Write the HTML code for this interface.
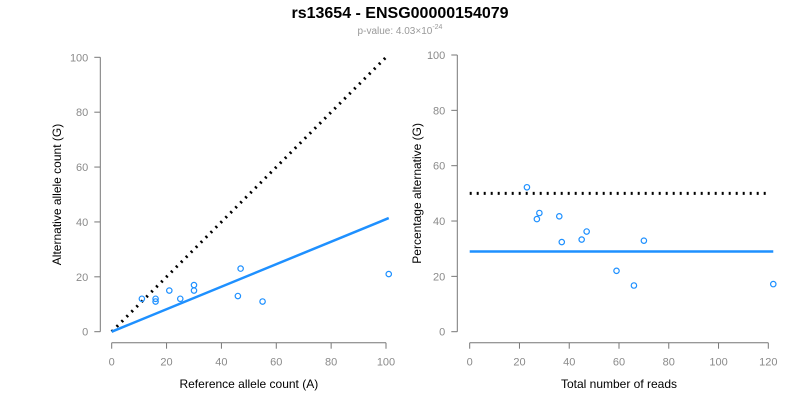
<!DOCTYPE html>
<html><head><meta charset="utf-8"><style>
body{margin:0;background:#fff;}
svg{display:block;font-family:"Liberation Sans",Arial,sans-serif;}
</style></head><body>
<svg id="chart" width="800" height="400" viewBox="0 0 800 400">
<text x="400" y="18" text-anchor="middle" font-size="16" font-weight="bold" fill="#000">rs13654 - ENSG00000154079</text>
<text x="400" y="34" text-anchor="middle" font-size="10" fill="#999">p-value: 4.03×10<tspan dy="-5" font-size="7">-24</tspan></text>
<g id="left"></g>
<g id="right"></g>
</svg>
<script>
const refCounts=[11,16,16,21,25,30,30,46,47,55,101];
const altCounts=[12,12,11,15,12,17,15,13,23,11,21];
const totalReads=[23,28,27,36,37,45,47,59,66,70,122];
const pctAlt=[52.2,42.9,40.7,41.7,32.4,33.3,36.2,22.0,16.7,32.9,17.2];
const fitSlope=0.41;
const fitPct=29;
const leftXTicks=[0,20,40,60,80,100];
const leftYTicks=[0,20,40,60,80,100];
const rightXTicks=[0,20,40,60,80,100,120];
const rightYTicks=[0,20,40,60,80,100];

const NS="http://www.w3.org/2000/svg";
function mk(p,tag,attrs){const e=document.createElementNS(NS,tag);for(const k in attrs)e.setAttribute(k,attrs[k]);p.appendChild(e);return e;}

function panel(g,cfg){
  const sx=v=>cfg.x0+(v-cfg.xmin)*(cfg.x1-cfg.x0)/(cfg.xmax-cfg.xmin);
  const sy=v=>cfg.y0+(v-0)*(cfg.y1-cfg.y0)/100;
  const axc="#777",tc="#8a8a8a";
  // y axis
  let a=mk(g,'line',{x1:cfg.yax,x2:cfg.yax,y1:sy(0),y2:sy(100),stroke:axc});
  
  cfg.yt.forEach(t=>{
    const l=mk(g,'line',{x1:cfg.yax-6,x2:cfg.yax,y1:sy(t),y2:sy(t),stroke:axc});
    
    const tx=mk(g,'text',{x:cfg.yax-12,y:sy(t)+4,'text-anchor':'end','font-size':11,fill:tc});
    tx.textContent=t;
    
  });
  a=mk(g,'line',{x1:sx(cfg.xt[0]),x2:sx(cfg.xt[cfg.xt.length-1]),y1:cfg.xax,y2:cfg.xax,stroke:axc});
  
  cfg.xt.forEach(t=>{
    const l=mk(g,'line',{x1:sx(t),x2:sx(t),y1:cfg.xax,y2:cfg.xax+6,stroke:axc});
    
    const tx=mk(g,'text',{x:sx(t),y:cfg.xax+23,'text-anchor':'middle','font-size':11,fill:tc});
    tx.textContent=t;
    
  });
  let tt=mk(g,'text',{x:(cfg.x0+cfg.x1)/2,y:388,'text-anchor':'middle','font-size':12,fill:'#000'});
  tt.textContent=cfg.xlab;
  
  const cy=(sy(0)+sy(100))/2;
  tt=mk(g,'text',{x:cfg.ylabx,y:cy,'text-anchor':'middle','font-size':12,fill:'#000',transform:`rotate(-90 ${cfg.ylabx} ${cy})`});
  tt.textContent=cfg.ylab;
  
  // dotted reference
  const d=mk(g,'line',{x1:sx(cfg.ref[0]),y1:sy(cfg.ref[1]),x2:sx(cfg.ref[2]),y2:sy(cfg.ref[3]),stroke:'#000','stroke-width':3,'stroke-dasharray':'2 5'});
  
  const f=mk(g,'line',{x1:sx(cfg.fit[0]),y1:sy(cfg.fit[1]),x2:sx(cfg.fit[2]),y2:sy(cfg.fit[3]),stroke:'#1e90ff','stroke-width':2.5});
  
  cfg.xs.forEach((v,i)=>{
    const c=mk(g,'circle',{cx:sx(v),cy:sy(cfg.ys[i]),r:2.7,fill:'none',stroke:'#1e90ff','stroke-width':1.2});
    
  });
}
panel(document.getElementById('left'),{x0:111.7,x1:386,xmin:0,xmax:100,y0:331.7,y1:57.3,yax:100.3,xax:342.7,
  xt:leftXTicks,yt:leftYTicks,xlab:'Reference allele count (A)',ylab:'Alternative allele count (G)',ylabx:61,
  ref:[0,0,100,100],fit:[0,0,101,101*fitSlope],xs:refCounts,ys:altCounts});
panel(document.getElementById('right'),{x0:469.7,x1:768.3,xmin:0,xmax:120,y0:331.7,y1:55,yax:457.3,xax:342.7,
  xt:rightXTicks,yt:rightYTicks,xlab:'Total number of reads',ylab:'Percentage alternative (G)',ylabx:421,
  ref:[0,50,120,50],fit:[0,fitPct,122,fitPct],xs:totalReads,ys:pctAlt});
</script>
</body></html>
